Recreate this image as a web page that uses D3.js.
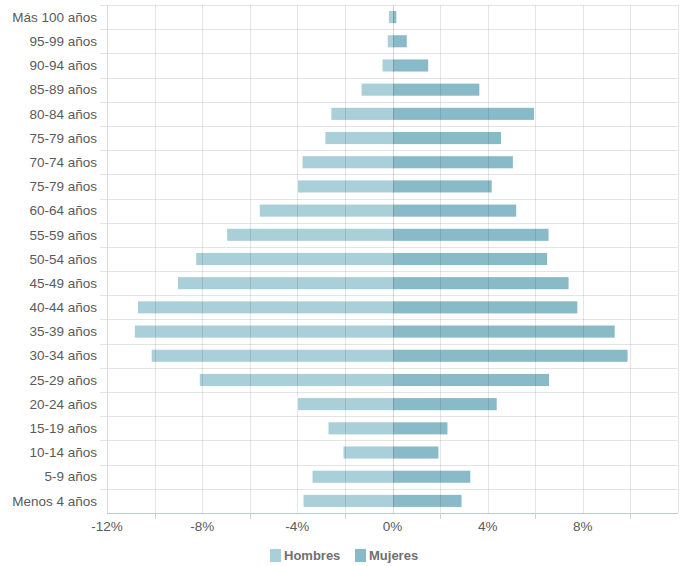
<!DOCTYPE html>
<html>
<head>
<meta charset="utf-8">
<script src="https://cdn.jsdelivr.net/npm/d3@7"></script>
<style>
  html, body { margin: 0; padding: 0; background: #fff; }
  svg { display: block; }
</style>
</head>
<body>
<svg id="chart" width="685" height="566"></svg>
<script>
const categories = ["Más 100 años","95-99 años","90-94 años","85-89 años","80-84 años","75-79 años","70-74 años","75-79 años","60-64 años","55-59 años","50-54 años","45-49 años","40-44 años","35-39 años","30-34 años","25-29 años","20-24 años","15-19 años","10-14 años","5-9 años","Menos 4 años"];
const hombres = [-0.15,-0.2,-0.42,-1.3,-2.57,-2.82,-3.78,-3.97,-5.58,-6.95,-8.25,-9.02,-10.7,-10.83,-10.12,-8.1,-3.97,-2.69,-2.06,-3.36,-3.74];
const mujeres = [0.16,0.6,1.5,3.65,5.95,4.56,5.06,4.17,5.2,6.56,6.5,7.4,7.77,9.34,9.88,6.58,4.38,2.31,1.93,3.27,2.9];
const xTicks = [-12,-8,-4,0,4,8];
const minorTicks = [-10,-6,-2,2,6,10];
const gridTicks = [-12,-10,-8,-6,-4,-2,0,2,4,6,8,10,12];
const seriesNames = ["Hombres","Mujeres"];
const colors = ["#a9cfd8","#89bac7"];

const svg = d3.select("#chart");
const pLeft = 107, pRight = 678, pTop = 5, pBottom = 513;

const x = d3.scaleLinear().domain([-12, 12]).range([pLeft, pRight]);
const y = d3.scaleBand().domain(d3.range(categories.length)).range([pTop, pBottom]).paddingInner(0.5).paddingOuter(0.25);
const stepH = y.step();

// horizontal grid (category boundaries)
const bounds = d3.range(categories.length).map(i => y(i) - stepH * 0.25);
svg.append("g").selectAll("line").data(bounds).join("line")
  .attr("x1", pLeft - 7).attr("x2", pRight)
  .attr("y1", d => Math.round(d) + 0.5).attr("y2", d => Math.round(d) + 0.5)
  .attr("stroke", "#e4e4e4");

// bars
const rows = categories.map((c, i) => ({ i, h: hombres[i], m: mujeres[i] }));
svg.append("g").selectAll("rect").data(rows).join("rect")
  .attr("x", d => x(d.h)).attr("width", d => x(0) - x(d.h))
  .attr("y", d => y(d.i)).attr("height", y.bandwidth())
  .attr("fill", colors[0]);
svg.append("g").selectAll("rect").data(rows).join("rect")
  .attr("x", x(0)).attr("width", d => x(d.m) - x(0))
  .attr("y", d => y(d.i)).attr("height", y.bandwidth())
  .attr("fill", colors[1]);

// vertical grid (drawn over bars, translucent)
svg.append("g").selectAll("line").data(gridTicks).join("line")
  .attr("x1", d => Math.round(x(d)) + 0.5).attr("x2", d => Math.round(x(d)) + 0.5)
  .attr("y1", pTop).attr("y2", pBottom)
  .attr("stroke", "#000").attr("stroke-opacity", d => (d === 0 ? 0.16 : 0.1)).attr("stroke-width", 1);

// left axis line
svg.append("line").attr("x1", pLeft + 0.5).attr("x2", pLeft + 0.5).attr("y1", pTop).attr("y2", pBottom)
  .attr("stroke", "#d8dcdc");

// y labels
svg.append("g").selectAll("text").data(categories).join("text")
  .attr("x", 97).attr("y", (d, i) => y(i) + y.bandwidth() / 2)
  .attr("dy", "0.35em").attr("text-anchor", "end")
  .attr("font-family", "Liberation Sans, Arial, sans-serif").attr("font-size", 13.5)
  .attr("fill", "#5a5a5a").text(d => d);

// x axis line
svg.append("line").attr("x1", pLeft).attr("x2", pRight).attr("y1", pBottom + 0.5).attr("y2", pBottom + 0.5)
  .attr("stroke", "#b9cccf");

// minor tick marks
svg.append("g").selectAll("line").data(minorTicks).join("line")
  .attr("x1", d => Math.round(x(d)) + 0.5).attr("x2", d => Math.round(x(d)) + 0.5)
  .attr("y1", pBottom).attr("y2", pBottom + 6)
  .attr("stroke", "#c8d4d6");

// x labels
svg.append("g").selectAll("text").data(xTicks).join("text")
  .attr("x", d => x(d)).attr("y", 526).attr("dy", "0.35em").attr("text-anchor", "middle")
  .attr("font-family", "Liberation Sans, Arial, sans-serif").attr("font-size", 13.5)
  .attr("fill", "#5a5a5a").text(d => d + "%");

// legend
const legendX = [270, 355];
const lg = svg.append("g").selectAll("g").data(seriesNames).join("g")
  .attr("transform", (d, i) => `translate(${legendX[i]},549)`);
lg.append("rect").attr("width", 11).attr("height", 13).attr("fill", (d, i) => colors[i]);
lg.append("text").attr("x", 14).attr("y", 6.5).attr("dy", "0.35em")
  .attr("font-family", "Liberation Sans, Arial, sans-serif").attr("font-size", 13)
  .attr("font-weight", "bold").attr("fill", "#707070").text(d => d);
</script>
</body>
</html>
